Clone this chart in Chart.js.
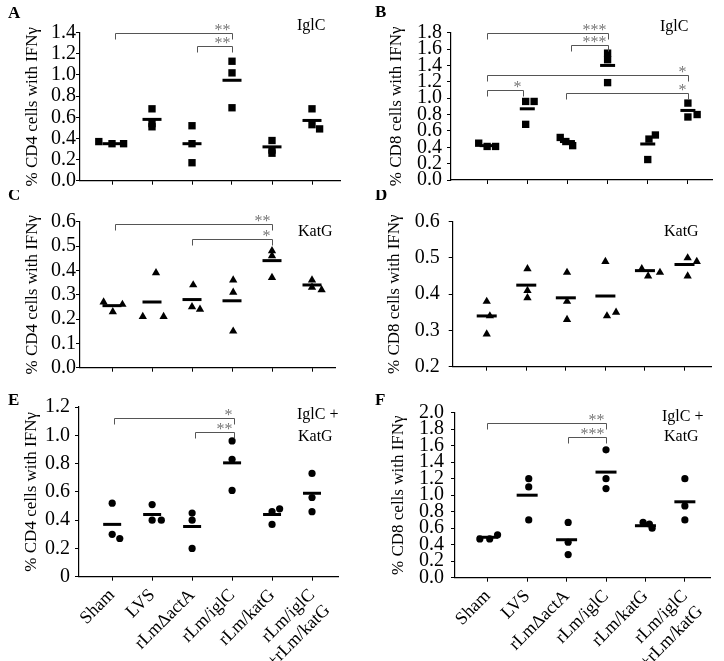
<!DOCTYPE html>
<html>
<head>
<meta charset="utf-8">
<script src="https://cdn.jsdelivr.net/npm/chart.js@4.4.1/dist/chart.umd.min.js"></script>
<style>
  body { margin: 0; background: #fff; }
  canvas { position: absolute; }
</style>
</head>
<body>
<canvas id="cA" width="362" height="200" style="left:0;top:0"></canvas>
<canvas id="cB" width="362" height="200" style="left:362px;top:0"></canvas>
<canvas id="cC" width="362" height="200" style="left:0;top:190px"></canvas>
<canvas id="cD" width="362" height="200" style="left:362px;top:190px"></canvas>
<canvas id="cE" width="362" height="271" style="left:0;top:390px"></canvas>
<canvas id="cF" width="362" height="271" style="left:362px;top:390px"></canvas>
<script>
// groups on the x axis
const groups = ["Sham", "LVS", "rLmΔactA", "rLm/iglC", "rLm/katG", ["rLm/iglC", "+rLm/katG"]];

// A: CD4, IglC  (3 mice per group)
const aVals = [[0.37, 0.35, 0.35], [0.68, 0.54, 0.51], [0.52, 0.35, 0.17], [1.13, 1.02, 0.69], [0.38, 0.29, 0.26], [0.68, 0.53, 0.49]];
const aJit  = [[-0.33, 0, 0.29], [0, 0, 0], [0, 0, 0], [0, 0, 0], [0, 0, 0], [0, 0, 0.19]];
const aMean = [0.35, 0.58, 0.35, 0.95, 0.32, 0.57];
const aSig  = [[0.07, 3, 1.40, "**"], [2.12, 3, 1.275, "**"]];

// B: CD8, IglC
const bVals = [[0.45, 0.41, 0.41], [0.96, 0.96, 0.68], [0.52, 0.47, 0.42], [1.55, 1.47, 1.19], [0.25, 0.50, 0.55], [0.94, 0.77, 0.80]];
const bJit  = [[-0.21, 0, 0.21], [-0.04, 0.17, -0.04], [-0.18, -0.04, 0.13], [0, 0, 0], [0, 0.03, 0.19], [0, 0, 0.23]];
const bMean = [0.42, 0.87, 0.47, 1.40, 0.44, 0.85];
const bSig  = [[0, 3, 1.80, "***"], [2.1, 3, 1.645, "***"], [0, 5, 1.283, "*"], [0, 0.9, 1.10, "*"], [1.96, 5, 1.067, "*"]];

// C: CD4, KatG
const cVals = [[0.27, 0.23, 0.26], [0.39, 0.21, 0.21], [0.34, 0.25, 0.24], [0.36, 0.31, 0.15], [0.48, 0.46, 0.37], [0.36, 0.33, 0.32]];
const cJit  = [[-0.21, 0.02, 0.26], [0.1, -0.23, 0.29], [0.03, 0, 0.2], [0.03, 0.03, 0.03], [0, 0, 0], [0, 0, 0.24]];
const cMean = [0.255, 0.27, 0.28, 0.275, 0.44, 0.34];
const cSig  = [[0.07, 4, 0.589, "**"], [2, 4, 0.529, "*"]];

// D: CD8, KatG
const dVals = [[0.38, 0.34, 0.29], [0.47, 0.41, 0.39], [0.46, 0.38, 0.33], [0.49, 0.34, 0.35], [0.47, 0.45, 0.46], [0.50, 0.49, 0.45]];
const dJit  = [[0, 0.08, 0], [0.03, 0.03, 0.03], [0.03, 0.03, 0.03], [0, 0.04, 0.27], [-0.08, 0.08, 0.38], [0.08, 0.31, 0.08]];
const dMean = [0.34, 0.425, 0.39, 0.395, 0.465, 0.482];
const dSig  = [];

// E: CD4, IglC + KatG
const eVals = [[0.52, 0.30, 0.27], [0.51, 0.40, 0.40], [0.45, 0.40, 0.20], [0.96, 0.83, 0.61], [0.37, 0.46, 0.48], [0.73, 0.56, 0.46]];
const eJit  = [[0, 0, 0.19], [0, 0, 0.23], [0, 0, 0], [0, 0, 0], [0, 0, 0.19], [0, 0, 0]];
const eMean = [0.37, 0.44, 0.355, 0.805, 0.44, 0.59];
const eSig  = [[0.05, 3.06, 1.12, "*"], [2.06, 3.06, 1.02, "**"]];

// F: CD8, IglC + KatG
const fVals = [[0.47, 0.47, 0.52], [1.20, 1.10, 0.70], [0.67, 0.43, 0.28], [1.55, 1.20, 1.08], [0.67, 0.65, 0.60], [1.20, 0.87, 0.70]];
const fJit  = [[-0.2, 0.05, 0.25], [0.04, 0.04, 0.04], [0.04, 0.04, 0.04], [0, 0, 0], [-0.06, 0.1, 0.17], [0, 0, 0]];
const fMean = [0.49, 1.00, 0.46, 1.28, 0.63, 0.92];
const fSig  = [[-0.03, 3, 1.88, "**"], [2.03, 3, 1.70, "***"]];

const SERIF = "'Liberation Serif', 'Times New Roman', serif";

// brackets, stars, panel letter and antigen label
const extras = {
  id: 'extras',
  afterDatasetsDraw(chart, args, o) {
    const {ctx, scales: {x, y}} = chart;
    ctx.save();
    ctx.strokeStyle = '#555';
    ctx.lineWidth = 1;
    ctx.fillStyle = '#777';
    ctx.font = '16px ' + SERIF;
    ctx.textAlign = 'right';
    ctx.textBaseline = 'alphabetic';
    o.sig.forEach(([a, b, v, t]) => {
      const x1 = Math.round(x.getPixelForValue(a)) + 0.5;
      const x2 = Math.round(x.getPixelForValue(b)) + 0.5;
      const yy = Math.round(y.getPixelForValue(v)) + 0.5;
      ctx.beginPath();
      ctx.moveTo(x1, yy + 6); ctx.lineTo(x1, yy); ctx.lineTo(x2, yy); ctx.lineTo(x2, yy + 6);
      ctx.stroke();
      ctx.fillText(t, x2 - 2, yy + 1.5);
    });
    ctx.fillStyle = '#000';
    ctx.textAlign = 'left';
    ctx.textBaseline = 'middle';
    ctx.font = 'bold 17px ' + SERIF;
    ctx.fillText(o.letter[0], o.letter[1], o.letter[2]);
    ctx.font = '16px ' + SERIF;
    o.gene.forEach(([t, gx, gy]) => ctx.fillText(t, gx, gy));
    ctx.restore();
  }
};

function points(vals, jit) {
  return vals.flatMap((g, i) => g.map((v, j) => ({x: i + jit[i][j], y: v})));
}

function panel(p) {
  new Chart(document.getElementById(p.id), {
    type: 'scatter',
    data: {
      datasets: [
        { data: points(p.vals, p.jit), pointStyle: p.style, pointRadius: p.r,
          backgroundColor: '#000', borderColor: '#000', borderWidth: 0, clip: false },
        { data: p.mean.map((m, i) => ({x: i, y: m})), pointStyle: 'line', pointRadius: p.bar,
          borderColor: '#000', borderWidth: 3, clip: false }
      ]
    },
    options: {
      responsive: false,
      animation: false,
      events: [],
      layout: { padding: p.pad },
      plugins: { legend: { display: false }, tooltip: { enabled: false }, extras: p.extra },
      scales: {
        x: {
          type: 'linear', min: p.xMin, max: p.xMax,
          afterBuildTicks: s => { s.ticks = groups.map((g, i) => ({value: i})); },
          afterFit: s => { s.height = p.xh; },
          grid: { drawOnChartArea: false, tickLength: 4, color: '#000' },
          border: { color: '#000', width: 1.2 },
          ticks: {
            display: p.labels, autoSkip: false, minRotation: 45, maxRotation: 45, padding: 4,
            color: '#000', font: { family: SERIF, size: 18 },
            callback: v => groups[v]
          }
        },
        y: {
          min: p.yMin, max: p.yMax,
          afterFit: s => { s.width = p.yw; },
          grid: { drawOnChartArea: false, tickLength: 4, color: '#000' },
          border: { color: '#000', width: 1.2 },
          ticks: {
            stepSize: p.step, autoSkip: false, padding: p.tkp, color: '#000', font: { family: SERIF, size: 20 },
            callback: v => (p.zero && v === 0) ? '0' : v.toFixed(1)
          },
          title: { display: true, text: p.title, color: '#000', font: { family: SERIF, size: 17 },
                   padding: { top: p.tp, bottom: 0 } }
        }
      }
    },
    plugins: [extras]
  });
}

panel({ id: 'cA', vals: aVals, jit: aJit, mean: aMean, style: 'rect', r: 5.2, bar: 9.5,
  yMin: 0, yMax: 1.4, step: 0.2, xMin: -0.8, xMax: 5.7, yw: 80, xh: 19.3, tp: 22, tkp: 0,
  pad: { top: 32.7, right: 22, bottom: 0, left: 0 }, labels: false,
  title: '% CD4 cells with IFNγ',
  extra: { sig: aSig, letter: ['A', 8, 14], gene: [['IglC', 297, 26]] } });

panel({ id: 'cB', vals: bVals, jit: bJit, mean: bMean, style: 'rect', r: 5.2, bar: 7.5,
  yMin: 0, yMax: 1.8, step: 0.2, xMin: -0.9, xMax: 5.6, yw: 89, xh: 20, tp: 24, tkp: 5,
  pad: { top: 32.7, right: 12, bottom: 0, left: 0 }, labels: false,
  title: '% CD8 cells with IFNγ',
  extra: { sig: bSig, letter: ['B', 13, 13], gene: [['IglC', 298, 27]] } });

panel({ id: 'cC', vals: cVals, jit: cJit, mean: cMean, style: 'triangle', r: 4.8, bar: 9.5,
  yMin: 0, yMax: 0.6, step: 0.1, xMin: -0.8, xMax: 5.575, yw: 80, xh: 22.3, tp: 22, tkp: 0,
  pad: { top: 31.7, right: 27, bottom: 0, left: 0 }, labels: false,
  title: '% CD4 cells with IFNγ',
  extra: { sig: cSig, letter: ['C', 8, 6], gene: [['KatG', 298, 42]] } });

panel({ id: 'cD', vals: dVals, jit: dJit, mean: dMean, style: 'triangle', r: 4.8, bar: 10,
  yMin: 0.2, yMax: 0.6, step: 0.1, xMin: -0.86, xMax: 5.67, yw: 90.7, xh: 23.3, tp: 22, tkp: 9,
  pad: { top: 31.7, right: 10, bottom: 0, left: 0 }, labels: false,
  title: '% CD8 cells with IFNγ',
  extra: { sig: dSig, letter: ['D', 13, 6], gene: [['KatG', 302, 42]] } });

panel({ id: 'cE', vals: eVals, jit: eJit, mean: eMean, style: 'circle', r: 3.6, bar: 9,
  yMin: 0, yMax: 1.2, step: 0.2, xMin: -0.83, xMax: 5.65, yw: 79, xh: 84.3, tp: 21, tkp: 5, zero: true,
  pad: { top: 14, right: 24, bottom: 0, left: 0 }, labels: true,
  title: '% CD4 cells with IFNγ',
  extra: { sig: eSig, letter: ['E', 8, 11], gene: [['IglC +', 297, 25], ['KatG', 298, 47]] } });

panel({ id: 'cF', vals: fVals, jit: fJit, mean: fMean, style: 'circle', r: 3.6, bar: 10.5,
  yMin: 0, yMax: 2.0, step: 0.2, xMin: -0.83, xMax: 5.65, yw: 93, xh: 83.3, tp: 26, tkp: 7,
  pad: { top: 22.7, right: 9, bottom: 0, left: 0 }, labels: true,
  title: '% CD8 cells with IFNγ',
  extra: { sig: fSig, letter: ['F', 13, 11], gene: [['IglC +', 300, 27], ['KatG', 302, 47]] } });
</script>
</body>
</html>
